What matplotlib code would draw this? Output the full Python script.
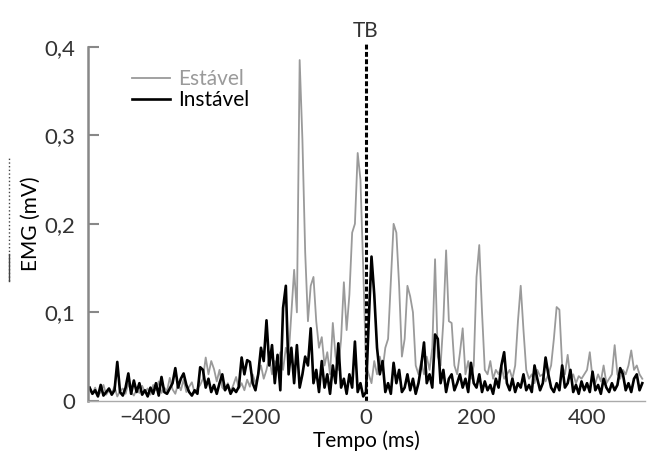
import numpy as np
import matplotlib
matplotlib.use("Agg")
import matplotlib.pyplot as plt
from matplotlib.lines import Line2D

plt.rcParams['font.family'] = ['Lato', 'DejaVu Sans']
plt.rcParams['text.color'] = '#333333'
plt.rcParams['xtick.labelcolor'] = '#333333'
plt.rcParams['ytick.labelcolor'] = '#333333'

# time axis (ms), one sample every 5 ms
tempo = np.arange(-500, 505, 5)

# Estável (grey trace), values in mV
estavel = [
    0.012, 0.008, 0.015, 0.006, 0.010, 0.018, 0.007, 0.012, 0.009, 0.016,
    0.005, 0.011, 0.014, 0.008, 0.020, 0.010, 0.006, 0.013, 0.009, 0.017,
    0.010, 0.014, 0.007, 0.018, 0.012, 0.022, 0.009, 0.015, 0.011, 0.026,
    0.013, 0.008, 0.019, 0.012, 0.024, 0.010, 0.016, 0.021, 0.009, 0.014,
    0.018, 0.025, 0.049, 0.030, 0.045, 0.036, 0.022, 0.035, 0.015, 0.012,
    0.020, 0.010, 0.018, 0.027, 0.014, 0.020, 0.012, 0.024, 0.016, 0.030,
    0.020, 0.030, 0.040, 0.025, 0.035, 0.050, 0.030, 0.045, 0.040, 0.055,
    0.035, 0.060, 0.050, 0.100, 0.148, 0.100, 0.385, 0.295, 0.168, 0.090,
    0.130, 0.140, 0.090, 0.060, 0.072, 0.040, 0.055, 0.030, 0.088, 0.050,
    0.035, 0.070, 0.134, 0.080, 0.120, 0.190, 0.200, 0.280, 0.250, 0.150,
    0.040, 0.030, 0.020, 0.045, 0.030, 0.050, 0.035, 0.060, 0.070, 0.134,
    0.200, 0.190, 0.130, 0.050, 0.070, 0.130, 0.118, 0.100, 0.040, 0.030,
    0.045, 0.030, 0.050, 0.035, 0.060, 0.160, 0.050, 0.040, 0.090, 0.170,
    0.090, 0.088, 0.040, 0.030, 0.054, 0.082, 0.030, 0.045, 0.025, 0.040,
    0.140, 0.176, 0.100, 0.035, 0.030, 0.045, 0.025, 0.035, 0.030, 0.040,
    0.025, 0.030, 0.035, 0.025, 0.040, 0.090, 0.130, 0.080, 0.035, 0.025,
    0.030, 0.020, 0.035, 0.028, 0.030, 0.022, 0.030, 0.040, 0.070, 0.106,
    0.103, 0.040, 0.030, 0.052, 0.025, 0.030, 0.020, 0.028, 0.025, 0.030,
    0.035, 0.055, 0.025, 0.020, 0.030, 0.022, 0.040, 0.020, 0.025, 0.030,
    0.063, 0.030, 0.025, 0.035, 0.030, 0.040, 0.057, 0.035, 0.040, 0.030,
    0.025,
]

# Instável (black trace)
instavel = [
    0.015, 0.008, 0.012, 0.005, 0.018, 0.006, 0.010, 0.014, 0.007, 0.012,
    0.044, 0.010, 0.006, 0.015, 0.031, 0.008, 0.023, 0.010, 0.020, 0.007,
    0.012, 0.005, 0.015, 0.008, 0.020, 0.006, 0.027, 0.010, 0.008, 0.014,
    0.020, 0.037, 0.015, 0.025, 0.031, 0.018, 0.010, 0.006, 0.012, 0.008,
    0.038, 0.035, 0.015, 0.025, 0.010, 0.018, 0.008, 0.020, 0.030, 0.012,
    0.018, 0.008, 0.014, 0.010, 0.016, 0.049, 0.030, 0.046, 0.044, 0.020,
    0.012, 0.030, 0.060, 0.045, 0.091, 0.040, 0.063, 0.020, 0.052, 0.012,
    0.105, 0.130, 0.030, 0.060, 0.020, 0.063, 0.015, 0.030, 0.050, 0.040,
    0.082, 0.020, 0.035, 0.010, 0.045, 0.015, 0.030, 0.008, 0.040, 0.020,
    0.065, 0.015, 0.025, 0.008, 0.030, 0.015, 0.067, 0.010, 0.020, 0.005,
    0.010, 0.090, 0.163, 0.120, 0.060, 0.030, 0.045, 0.010, 0.020, 0.008,
    0.043, 0.020, 0.035, 0.010, 0.015, 0.030, 0.012, 0.025, 0.008, 0.020,
    0.040, 0.066, 0.020, 0.030, 0.015, 0.075, 0.070, 0.020, 0.035, 0.010,
    0.025, 0.030, 0.012, 0.020, 0.030, 0.015, 0.025, 0.010, 0.043, 0.020,
    0.015, 0.030, 0.010, 0.022, 0.012, 0.018, 0.008, 0.025, 0.015, 0.040,
    0.055, 0.020, 0.012, 0.025, 0.010, 0.020, 0.015, 0.030, 0.012, 0.018,
    0.010, 0.040, 0.025, 0.012, 0.020, 0.049, 0.030, 0.015, 0.010, 0.020,
    0.012, 0.040, 0.015, 0.020, 0.035, 0.010, 0.018, 0.008, 0.022, 0.012,
    0.020, 0.010, 0.033, 0.012, 0.018, 0.008, 0.025, 0.015, 0.010, 0.020,
    0.012, 0.018, 0.037, 0.030, 0.012, 0.020, 0.010, 0.025, 0.030, 0.012,
    0.020,
]

y_ticks = [0, 0.1, 0.2, 0.3, 0.4]
y_labels = ['0', '0,1', '0,2', '0,3', '0,4']
x_ticks = [-400, -200, 0, 200, 400]

fig = plt.figure(figsize=(6.47, 4.54), dpi=100)
ax = fig.add_axes([0.136, 0.117, 0.861, 0.780])

ax.plot(tempo, estavel, color='#9a9a9a', lw=1.3, label='Estável')
ax.plot(tempo, instavel, color='black', lw=1.9, label='Instável')

# TB marker
ax.plot([0, 0], [0, 0.403], color='black', lw=2.2, dashes=(1.6, 0.8), clip_on=False)
ax.text(0, 0.407, 'TB', ha='center', va='bottom', fontsize=15)

ax.set_xlim(-503, 505)
ax.set_ylim(0, 0.4)
ax.set_yticks(y_ticks)
ax.set_yticklabels(y_labels)
ax.set_xticks(x_ticks)
ax.tick_params(axis='y', direction='in', length=8, width=1.5, color='#888888',
               labelsize=16, pad=9)
ax.tick_params(axis='x', length=0, labelsize=16, pad=5)
for s in ['top', 'right']:
    ax.spines[s].set_visible(False)
ax.spines['left'].set_color('#888888')
ax.spines['left'].set_linewidth(1.8)
ax.spines['bottom'].set_color('#aaaaaa')
ax.spines['bottom'].set_linewidth(1.0)

ax.set_xlabel('Tempo (ms)', fontsize=15, labelpad=2)
ax.set_ylabel('EMG (mV)', fontsize=15, labelpad=3)

leg = ax.legend(loc='upper left', bbox_to_anchor=(0.046, 0.99), frameon=False,
                fontsize=15, handlelength=1.8, handletextpad=0.4, labelspacing=0.05)
leg.get_texts()[0].set_color('#9a9a9a')
leg.get_texts()[1].set_color('black')
leg.get_lines()[0].set_linewidth(1.3)
leg.get_lines()[1].set_linewidth(1.9)

# cropped edge of the neighbouring panel
fig.lines.append(Line2D([0.014, 0.014], [0.38, 0.655], transform=fig.transFigure,
                        color='#444444', lw=1, ls=':'))
fig.lines.append(Line2D([0.014, 0.014], [0.38, 0.44], transform=fig.transFigure,
                        color='#444444', lw=1))

fig.savefig('out.png', dpi=100)
